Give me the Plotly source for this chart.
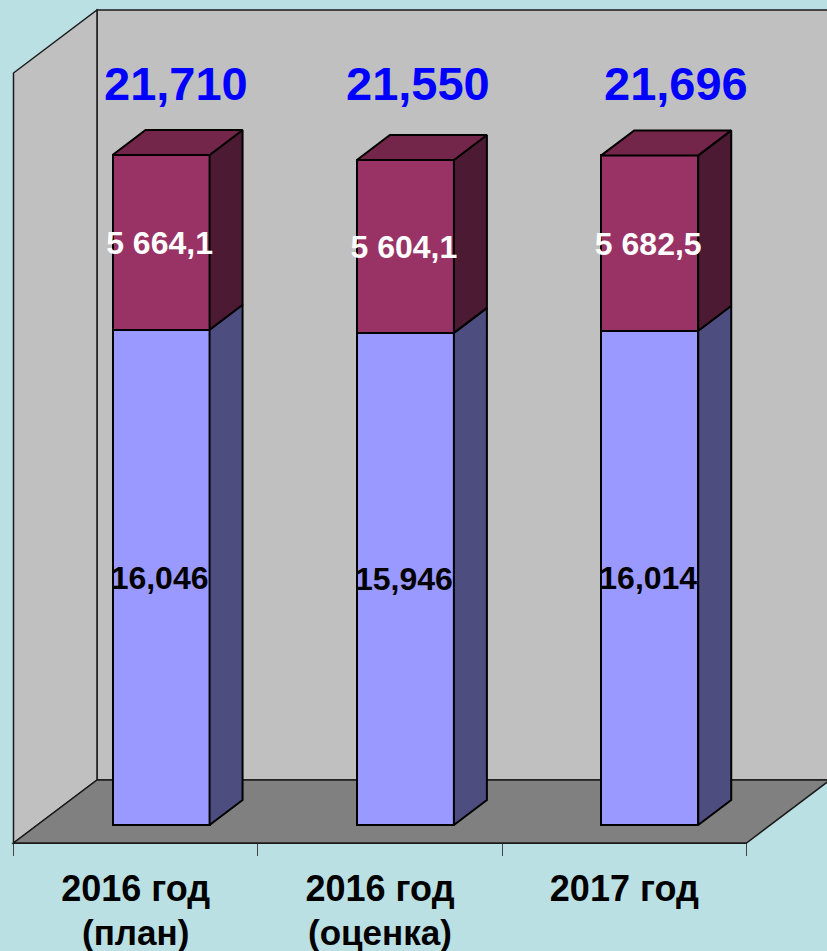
import plotly.graph_objects as go

# ---- data ----
categories = ["2016 год", "2016 год", "2017 год"]
category_notes = ["(план)", "(оценка)", ""]
lower_values = [16046, 15946, 16014]
upper_values = [5664.1, 5604.1, 5682.5]
lower_labels = ["16,046", "15,946", "16,014"]
upper_labels = ["5 664,1", "5 604,1", "5 682,5"]
total_labels = ["21,710", "21,550", "21,696"]

# ---- pixel layout of the figure ----
W, H = 827, 951
AX_L, AX_R, AX_B, AX_T = 13.5, 746.5, 843, 73   # front plane of the plot box
WALL_DX, WALL_DY = 83.5, 63                     # depth of the box
BASE_PX = 825                                   # pixel row of value 0 on bars
PX_PER_UNIT = 670 / 21710
PX_PER_CAT = (AX_R - AX_L) / 3
BAR_SHIFT = 25.4 / PX_PER_CAT
BAR_W = 97 / PX_PER_CAT
DX = 33 / PX_PER_CAT
DY = 25 / PX_PER_UNIT
LABEL_SHIFT = -1.5 / PX_PER_CAT
LABEL_DROP = 3.5 / PX_PER_UNIT
TOTAL_SHIFTS = [15, 13, 26]

C_BG, C_WALL, C_FLOOR = "#BBE0E3", "#C0C0C0", "#808080"
C_LOW, C_LOW_SIDE = "#9999FF", "#4D4D80"
C_UP, C_UP_SIDE, C_UP_TOP = "#993366", "#4D1A33", "#732649"
FONT = "Liberation Sans, Arial, sans-serif"
EDGE = dict(color="black", width=2)

xs = [i + BAR_SHIFT for i in range(len(categories))]

fig = go.Figure()
fig.add_trace(go.Bar(x=xs, y=lower_values, width=BAR_W, cliponaxis=False, marker=dict(color=C_LOW, line=EDGE)))
fig.add_trace(go.Bar(x=xs, y=upper_values, width=BAR_W, cliponaxis=False, marker=dict(color=C_UP, line=EDGE)))


def face(px, py, color):
    fig.add_trace(go.Scatter(x=px, y=py, mode="lines", fill="toself", fillcolor=color, cliponaxis=False,
                             line=EDGE, hoverinfo="skip"))


for x, lo, up in zip(xs, lower_values, upper_values):
    r = x + BAR_W / 2
    l = x - BAR_W / 2
    top = lo + up
    face([r, r + DX, r + DX, r, r], [0, DY, lo + DY, lo, 0], C_LOW_SIDE)
    face([r, r + DX, r + DX, r, r], [lo, lo + DY, top + DY, top, lo], C_UP_SIDE)
    face([l, l + DX, r + DX, r, l], [top, top + DY, top + DY, top, top], C_UP_TOP)

# value labels sit above the side faces
label_x = [x + LABEL_SHIFT for x in xs]
fig.add_trace(go.Scatter(x=label_x, y=[v / 2 - LABEL_DROP for v in lower_values], mode="text", cliponaxis=False,
                         text=[f"<b>{t}</b>" for t in lower_labels], textposition="middle center",
                         textfont=dict(family=FONT, size=32, color="black")))
fig.add_trace(go.Scatter(x=label_x, y=[lo + up / 2 - LABEL_DROP for lo, up in zip(lower_values, upper_values)],
                         mode="text", cliponaxis=False,
                         text=[f"<b>{t}</b>" for t in upper_labels], textposition="middle center",
                         textfont=dict(family=FONT, size=32, color="white")))


def px_x(p):
    return p / W


def px_y(p):
    return (H - p) / H


def poly(points, fill):
    path = "M" + " L".join(f"{px_x(a):.5f},{px_y(b):.5f}" for a, b in points) + " Z"
    return dict(type="path", xref="paper", yref="paper", path=path, fillcolor=fill, layer="below",
                line=dict(color="#1a1a1a", width=1.5))


BX, BY_T, BY_B = AX_L + WALL_DX, AX_T - WALL_DY, AX_B - WALL_DY
shapes = [
    poly([(BX, BY_T), (W + 60, BY_T), (W + 60, BY_B), (BX, BY_B)], C_WALL),
    poly([(AX_L, AX_T), (BX, BY_T), (BX, BY_B), (AX_L, AX_B)], C_WALL),
    poly([(AX_L, AX_B), (AX_R, AX_B), (AX_R + WALL_DX, BY_B), (BX, BY_B)], C_FLOOR),
]

annotations = []
for i, (lab, sh) in enumerate(zip(total_labels, TOTAL_SHIFTS)):
    annotations.append(dict(x=xs[i], xref="x", xshift=sh, y=px_y(83), yref="paper", text=f"<b>{lab}</b>",
                            showarrow=False, xanchor="center", yanchor="middle",
                            font=dict(family=FONT, size=47, color="#0000FF")))
for i, note in enumerate(category_notes):
    if note:
        annotations.append(dict(x=i, xref="x", y=px_y(932), yref="paper", text=f"<b>{note}</b>",
                                showarrow=False, xanchor="center", yanchor="middle", height=37,
                                font=dict(family=FONT, size=35, color="black")))

fig.update_layout(
    width=W, height=H, autosize=False, margin=dict(l=0, r=0, t=0, b=0, pad=0),
    paper_bgcolor=C_BG, plot_bgcolor="rgba(0,0,0,0)", barmode="stack", showlegend=False,
    shapes=shapes, annotations=annotations,
    xaxis=dict(domain=[AX_L / W, AX_R / W], range=[-0.5, 2.5], tickmode="array", tickvals=[0, 1, 2],
               ticktext=[f"<b>{c}</b>" for c in categories], ticks="outside", ticklen=14,
               tickcolor="rgba(0,0,0,0)", showgrid=False, zeroline=False,
               showline=True, linecolor="#1a1a1a", linewidth=1.2,
               tickfont=dict(family=FONT, size=36, color="black"),
               minor=dict(tickmode="array", tickvals=[-0.5, 0.5, 1.5, 2.5], ticks="outside", ticklen=12,
                          tickcolor="#444444", tickwidth=1.2, showgrid=False)),
    yaxis=dict(domain=[(H - AX_B) / H, (H - AX_T) / H],
               range=[(BASE_PX - AX_B) / PX_PER_UNIT, (BASE_PX - AX_T) / PX_PER_UNIT],
               showticklabels=False, ticks="", showgrid=False, zeroline=False, showline=True,
               linecolor="#1a1a1a", linewidth=1.2),
)

fig.write_html("out.html", config=dict(displayModeBar=False), post_script="document.body.style.margin='0';")
